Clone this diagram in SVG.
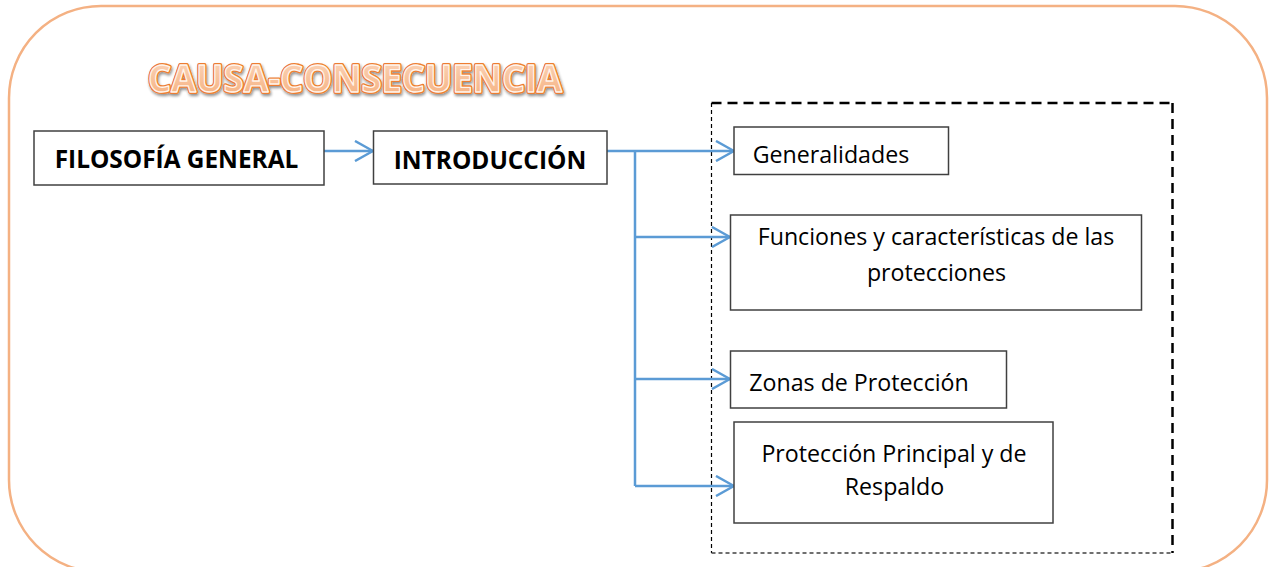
<svg xmlns="http://www.w3.org/2000/svg" width="1275" height="567" viewBox="0 0 1275 567">
  <defs>
    <style>
      .box { fill: #ffffff; stroke: #404040; stroke-width: 1.5; }
      .txt { font-family: "Open Sans", "Liberation Sans", sans-serif; font-size: 23.2px; fill: #000000; text-anchor: middle; }
      .bold { font-weight: bold; font-size: 24.4px; }
      .conn { fill: none; stroke: #5B9BD5; stroke-width: 2.5; }
      .title { font-family: "Open Sans", "Liberation Sans", sans-serif; font-weight: 700; font-size: 38px; text-anchor: middle; }
    </style>
    <marker id="arrow" viewBox="0 0 20 22" refX="19" refY="11" markerWidth="20" markerHeight="22" markerUnits="userSpaceOnUse" orient="auto">
      <path d="M1,1 L19,11 L1,21" fill="none" stroke="#5B9BD5" stroke-width="2.5"/>
    </marker>
    <filter id="shadow" x="-10%" y="-30%" width="120%" height="160%">
      <feGaussianBlur in="SourceAlpha" stdDeviation="1.5"/>
      <feOffset dx="1" dy="2" result="b"/>
      <feComponentTransfer><feFuncA type="linear" slope="0.45"/></feComponentTransfer>
      <feMerge><feMergeNode/><feMergeNode in="SourceGraphic"/></feMerge>
    </filter>
    <linearGradient id="tgrad" x1="0" y1="0" x2="0" y2="1">
      <stop offset="0" stop-color="#FCDCC6"/>
      <stop offset="1" stop-color="#F5AC78"/>
    </linearGradient>
  </defs>

  <rect id="frame" x="9" y="6" width="1258" height="566" rx="92" ry="92" fill="none" stroke="#F4B183" stroke-width="2.5"/>

  <g id="title">
    <text class="title" x="355" y="92" textLength="414" lengthAdjust="spacingAndGlyphs" fill="none" stroke="#ED7D31" stroke-width="4" stroke-linejoin="round" filter="url(#shadow)">CAUSA-CONSECUENCIA</text>
    <text class="title" x="355" y="92" textLength="414" lengthAdjust="spacingAndGlyphs" fill="url(#tgrad)" stroke="#FFF4EC" stroke-width="1.3" stroke-linejoin="round">CAUSA-CONSECUENCIA</text>
  </g>

  <g id="group-frame">
    <line x1="711.5" y1="103" x2="1172.5" y2="103" stroke="#000" stroke-width="2.5" stroke-dasharray="10,6"/>
    <line x1="1172.5" y1="103" x2="1172.5" y2="553" stroke="#000" stroke-width="2.5" stroke-dasharray="10,6"/>
    <line x1="711.5" y1="103" x2="711.5" y2="553" stroke="#000" stroke-width="1.2" stroke-dasharray="4,3"/>
    <line x1="711.5" y1="553" x2="1172.5" y2="553" stroke="#404040" stroke-width="1.5" stroke-dasharray="4,3"/>
  </g>

  <g id="connectors">
    <line class="conn" x1="324" y1="151" x2="373" y2="151" marker-end="url(#arrow)"/>
    <line class="conn" x1="607" y1="151" x2="734" y2="151" marker-end="url(#arrow)"/>
    <line class="conn" x1="635" y1="151" x2="635" y2="486"/>
    <line class="conn" x1="635" y1="237" x2="730" y2="237" marker-end="url(#arrow)"/>
    <line class="conn" x1="635" y1="379" x2="730" y2="379" marker-end="url(#arrow)"/>
    <line class="conn" x1="635" y1="486" x2="734" y2="486" marker-end="url(#arrow)"/>
  </g>

  <g id="filosofia">
    <rect class="box" x="34" y="131" width="290" height="54"/>
    <text class="txt bold" x="176.5" y="168">FILOSOFÍA GENERAL</text>
  </g>

  <g id="introduccion">
    <rect class="box" x="373.5" y="131" width="233.5" height="53"/>
    <text class="txt bold" x="490" y="169">INTRODUCCIÓN</text>
  </g>

  <g id="generalidades">
    <rect class="box" x="734" y="127" width="214.5" height="47.5"/>
    <text class="txt" x="831" y="163">Generalidades</text>
  </g>

  <g id="funciones">
    <rect class="box" x="730.5" y="215" width="411" height="95"/>
    <text class="txt" x="936" y="245">Funciones y características de las</text>
    <text class="txt" x="936.5" y="281">protecciones</text>
  </g>

  <g id="zonas">
    <rect class="box" x="730.5" y="351" width="276" height="57"/>
    <text class="txt" x="859" y="391">Zonas de Protección</text>
  </g>

  <g id="principal">
    <rect class="box" x="734" y="422" width="319" height="101"/>
    <text class="txt" x="894" y="462">Protección Principal y de</text>
    <text class="txt" x="894.5" y="495">Respaldo</text>
  </g>
</svg>
